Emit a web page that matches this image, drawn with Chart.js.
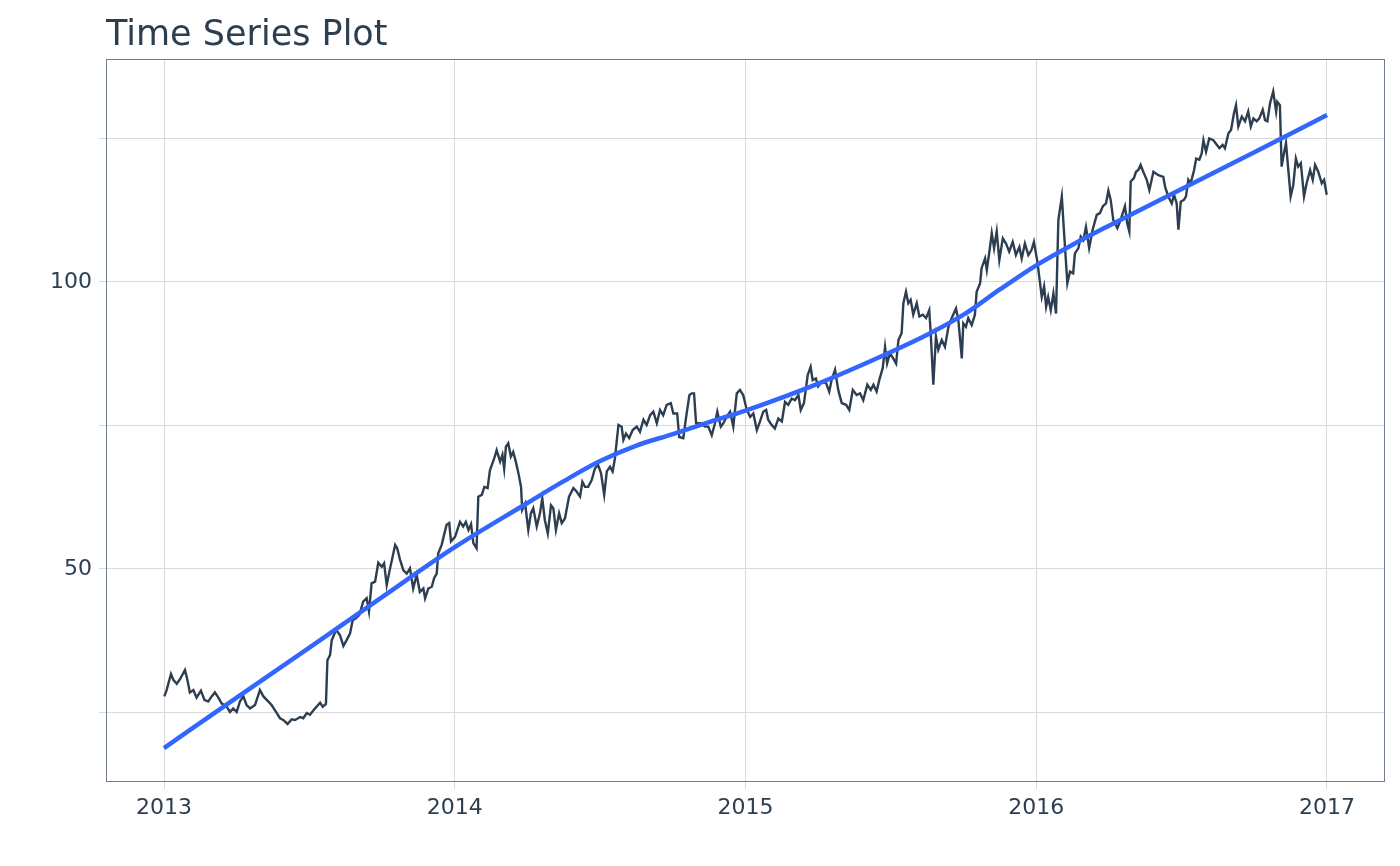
<!DOCTYPE html>
<html>
<head>
<meta charset="utf-8">
<title>Time Series Plot</title>
<script src="https://cdn.jsdelivr.net/npm/chart.js@4.4.1/dist/chart.umd.min.js"></script>
<style>
  html, body { margin: 0; padding: 0; background: #ffffff; }
  #wrap { width: 1400px; height: 866px; }
</style>
</head>
<body>
<div id="wrap"><canvas id="tsChart" width="1400" height="866"></canvas></div>
<script>
// decimal years of each observation
const dates = [
  2013.001, 2013.009, 2013.024, 2013.032, 2013.044, 2013.055, 2013.072, 2013.080, 2013.089, 2013.101,
  2013.112, 2013.127, 2013.139, 2013.152, 2013.164, 2013.175, 2013.187, 2013.198, 2013.216, 2013.227,
  2013.238, 2013.250, 2013.261, 2013.273, 2013.284, 2013.296, 2013.313, 2013.330, 2013.342, 2013.359,
  2013.370, 2013.388, 2013.399, 2013.410, 2013.425, 2013.439, 2013.451, 2013.468, 2013.479, 2013.491,
  2013.502, 2013.519, 2013.537, 2013.546, 2013.557, 2013.562, 2013.571, 2013.577, 2013.592, 2013.605,
  2013.617, 2013.628, 2013.640, 2013.649, 2013.660, 2013.672, 2013.685, 2013.697, 2013.705, 2013.714,
  2013.726, 2013.737, 2013.749, 2013.757, 2013.766, 2013.775, 2013.795, 2013.802, 2013.812, 2013.823,
  2013.835, 2013.846, 2013.857, 2013.869, 2013.880, 2013.892, 2013.898, 2013.909, 2013.921, 2013.929,
  2013.938, 2013.943, 2013.955, 2013.963, 2013.972, 2013.981, 2013.987,
  2014.001, 2014.018, 2014.029, 2014.038, 2014.047, 2014.056, 2014.064, 2014.075, 2014.081, 2014.093,
  2014.102, 2014.113, 2014.121, 2014.136, 2014.144, 2014.156, 2014.164, 2014.170, 2014.176, 2014.184,
  2014.193, 2014.201, 2014.210, 2014.219, 2014.228, 2014.232, 2014.242, 2014.253, 2014.262, 2014.270,
  2014.282, 2014.293, 2014.301, 2014.310, 2014.320, 2014.331, 2014.339, 2014.348, 2014.359, 2014.368,
  2014.379, 2014.393, 2014.408, 2014.419, 2014.431, 2014.439, 2014.448, 2014.459, 2014.471, 2014.482,
  2014.493, 2014.503, 2014.514, 2014.523, 2014.534, 2014.543, 2014.551, 2014.563, 2014.574, 2014.580,
  2014.589, 2014.600, 2014.612, 2014.626, 2014.637, 2014.649, 2014.660, 2014.672, 2014.683, 2014.695,
  2014.706, 2014.717, 2014.729, 2014.743, 2014.752, 2014.765, 2014.772, 2014.786, 2014.795, 2014.807,
  2014.815, 2014.823, 2014.830, 2014.844, 2014.861, 2014.872, 2014.884, 2014.895, 2014.903, 2014.915,
  2014.924, 2014.935, 2014.947, 2014.958, 2014.970, 2014.981, 2014.992,
  2015.004, 2015.016, 2015.027, 2015.039, 2015.050, 2015.061, 2015.071, 2015.078, 2015.090, 2015.101,
  2015.113, 2015.125, 2015.136, 2015.147, 2015.159, 2015.170, 2015.182, 2015.190, 2015.201, 2015.214,
  2015.224, 2015.231, 2015.242, 2015.250, 2015.262, 2015.277, 2015.288, 2015.296, 2015.308, 2015.319,
  2015.331, 2015.346, 2015.357, 2015.369, 2015.382, 2015.394, 2015.405, 2015.419, 2015.431, 2015.440,
  2015.451, 2015.460, 2015.472, 2015.480, 2015.487, 2015.497, 2015.508, 2015.518, 2015.526, 2015.537,
  2015.543, 2015.552, 2015.560, 2015.568, 2015.577, 2015.589, 2015.598, 2015.610, 2015.621, 2015.632,
  2015.637, 2015.646, 2015.655, 2015.663, 2015.675, 2015.686, 2015.698, 2015.709, 2015.724, 2015.732,
  2015.744, 2015.749, 2015.758, 2015.766, 2015.778, 2015.789, 2015.795, 2015.807, 2015.812, 2015.824,
  2015.830, 2015.841, 2015.847, 2015.855, 2015.864, 2015.873, 2015.885, 2015.896, 2015.907, 2015.919,
  2015.930, 2015.942, 2015.950, 2015.961, 2015.973, 2015.984, 2015.992,
  2016.004, 2016.019, 2016.027, 2016.034, 2016.041, 2016.050, 2016.059, 2016.068, 2016.076, 2016.088,
  2016.095, 2016.107, 2016.116, 2016.127, 2016.133, 2016.145, 2016.153, 2016.162, 2016.171, 2016.182,
  2016.194, 2016.208, 2016.219, 2016.229, 2016.240, 2016.248, 2016.256, 2016.265, 2016.279, 2016.290,
  2016.305, 2016.313, 2016.320, 2016.325, 2016.336, 2016.343, 2016.351, 2016.359, 2016.368, 2016.380,
  2016.389, 2016.403, 2016.420, 2016.437, 2016.443, 2016.454, 2016.466, 2016.474, 2016.483, 2016.489,
  2016.497, 2016.508, 2016.515, 2016.523, 2016.531, 2016.543, 2016.550, 2016.561, 2016.569, 2016.575,
  2016.584, 2016.595, 2016.609, 2016.621, 2016.630, 2016.641, 2016.649, 2016.661, 2016.670, 2016.680,
  2016.687, 2016.695, 2016.707, 2016.718, 2016.729, 2016.738, 2016.747, 2016.758, 2016.767, 2016.779,
  2016.787, 2016.795, 2016.804, 2016.815, 2016.825, 2016.829, 2016.838, 2016.844, 2016.850, 2016.859,
  2016.867, 2016.875, 2016.884, 2016.893, 2016.901, 2016.910, 2016.921, 2016.930, 2016.942, 2016.951,
  2016.959, 2016.970, 2016.982, 2016.990, 2016.999
];

const values = [
  27.8, 28.9, 31.7, 30.7, 30.0, 30.8, 32.4, 30.8, 28.5, 28.9,
  27.6, 28.8, 27.2, 26.9, 27.8, 28.5, 27.6, 26.6, 26.0, 25.1,
  25.7, 25.1, 26.9, 27.8, 26.3, 25.7, 26.3, 28.9, 27.8, 26.9,
  26.3, 24.9, 24.0, 23.7, 23.0, 23.8, 23.7, 24.2, 24.0, 24.9,
  24.6, 25.7, 26.7, 26.0, 26.5, 34.1, 35.0, 37.6, 39.4, 38.5,
  36.6, 37.6, 38.8, 41.1, 41.4, 42.0, 44.3, 44.9, 42.6, 47.5,
  47.8, 51.1, 50.4, 51.0, 47.2, 49.5, 54.2, 53.6, 51.6, 49.8,
  49.2, 50.1, 46.6, 49.0, 46.0, 46.6, 44.9, 46.6, 46.9, 48.4,
  49.2, 52.7, 54.2, 55.9, 57.7, 58.0, 54.8,
  55.6, 58.2, 57.4, 58.2, 56.8, 57.8, 54.5, 53.6, 62.6, 62.9,
  64.3, 64.1, 67.2, 69.3, 70.7, 68.7, 69.9, 67.5, 71.3, 71.9,
  69.6, 70.4, 68.7, 66.7, 64.3, 60.3, 61.4, 56.8, 59.7, 60.6,
  57.4, 59.7, 62.3, 58.5, 56.2, 61.1, 60.6, 56.8, 59.7, 58.0,
  58.8, 62.6, 64.1, 63.5, 62.6, 65.2, 64.3, 64.3, 65.5, 67.5,
  68.1, 66.7, 62.9, 67.0, 67.8, 67.0, 69.3, 75.1, 74.8, 72.5,
  73.6, 72.8, 74.2, 74.8, 73.9, 76.0, 75.1, 76.8, 77.4, 75.4,
  77.7, 76.8, 78.6, 78.9, 77.1, 77.1, 73.0, 72.8, 76.2, 80.3,
  80.6, 80.6, 75.4, 75.4, 74.8, 74.8, 73.3, 75.4, 77.4, 74.8,
  75.4, 76.5, 77.4, 74.8, 80.6, 81.2, 80.3,
  77.8, 76.5, 77.1, 74.2, 75.7, 77.4, 77.7, 76.0, 75.1, 74.5,
  76.2, 75.7, 79.1, 78.6, 79.7, 79.4, 80.3, 77.7, 78.9, 83.8,
  85.2, 82.9, 83.2, 81.8, 82.6, 82.4, 80.9, 82.9, 84.7, 81.2,
  78.9, 78.6, 77.7, 81.2, 80.3, 80.6, 79.4, 82.1, 81.2, 82.1,
  80.9, 82.9, 85.0, 88.7, 85.8, 87.6, 86.7, 85.8, 89.9, 91.1,
  96.3, 98.3, 96.3, 96.9, 94.3, 96.3, 94.0, 94.3, 93.7, 95.1,
  91.1, 82.1, 90.5, 88.2, 89.9, 88.7, 92.2, 93.7, 95.4, 93.4,
  86.7, 92.8, 92.2, 93.7, 92.5, 94.3, 98.3, 99.8, 102.4, 104.1,
  102.1, 106.1, 108.5, 105.9, 108.8, 103.8, 107.6, 106.7, 105.3, 107.0,
  104.7, 106.1, 104.1, 106.7, 104.7, 105.6, 107.0,
  103.5, 97.4, 99.2, 95.7, 97.4, 95.1, 98.0, 94.5, 110.8, 114.9,
  109.1, 99.8, 101.8, 101.5, 105.0, 105.9, 107.9, 107.3, 109.6, 105.9,
  109.1, 111.7, 112.0, 113.2, 113.7, 115.9, 114.3, 110.8, 109.4, 110.8,
  113.2, 110.2, 108.8, 117.5, 118.1, 119.2, 119.5, 120.4, 119.2, 117.8,
  116.0, 119.2, 118.6, 118.3, 116.6, 114.9, 113.7, 115.2, 113.7, 109.1,
  114.0, 114.3, 114.9, 117.8, 117.2, 119.5, 121.5, 121.3, 122.4, 124.7,
  122.7, 125.0, 124.7, 123.9, 123.3, 123.9, 123.3, 125.9, 126.5, 129.4,
  130.8, 127.1, 128.8, 128.0, 129.7, 127.1, 128.5, 128.0, 128.5, 130.0,
  128.2, 128.0, 131.1, 133.2, 129.7, 131.4, 130.8, 120.1, 121.9, 124.2,
  119.5, 114.9, 116.9, 121.5, 120.1, 120.7, 114.9, 117.2, 119.5, 117.8,
  120.4, 119.2, 117.2, 117.8, 115.2
];

// smoothed trend (loess-like)
const trendDates = [2013.0, 2013.25, 2013.5, 2013.75, 2014.0, 2014.25, 2014.375, 2014.5,
                    2014.625, 2014.75, 2014.875, 2015.0, 2015.25, 2015.5, 2015.625, 2015.75,
                    2015.875, 2016.0, 2016.125, 2016.25, 2016.5, 2016.75, 2017.0];
const trendValues = [18.8, 27.6, 36.3, 45.1, 53.8, 61.5, 65.3, 68.8,
                     71.5, 73.5, 75.6, 77.6, 82.3, 87.8, 90.8, 94.3,
                     98.7, 102.9, 106.5, 109.8, 116.2, 122.6, 129.1];

const yearTicks = [2013, 2014, 2015, 2016, 2017];
const valueTicks = [25, 50, 75, 100, 125];
const valueLabels = [50, 100];

const textColor = '#2c3e50';
const gridColor = '#d9d9d9';

const seriesPoints = dates.map((d, i) => ({ x: d, y: values[i] }));
const trendPoints = trendDates.map((d, i) => ({ x: d, y: trendValues[i] }));

// title at the left edge of the panel + full panel border
const panelDecor = {
    id: 'panelDecor',
    afterDraw(chart) {
        const { ctx, chartArea } = chart;
        ctx.save();
        ctx.strokeStyle = '#6f7d8c';
        ctx.lineWidth = 1;
        ctx.strokeRect(chartArea.left + 0.5, chartArea.top + 0.5,
                       chartArea.right - chartArea.left - 1, chartArea.bottom - chartArea.top - 1);
        ctx.fillStyle = textColor;
        ctx.font = '35px "DejaVu Sans"';
        ctx.textAlign = 'left';
        ctx.textBaseline = 'alphabetic';
        ctx.fillText('Time Series Plot', chartArea.left, 45);
        ctx.restore();
    }
};

const ctx = document.getElementById('tsChart').getContext('2d');
const tsChart = new Chart(ctx, {
    type: 'line',
    data: {
        datasets: [{
            label: 'Value',
            data: seriesPoints,
            borderColor: '#2c3e50',
            borderWidth: 2.4,
            pointRadius: 0,
            tension: 0,
            order: 2
        },
        {
            label: 'Trend',
            data: trendPoints,
            borderColor: '#3366ff',
            borderWidth: 4.5,
            pointRadius: 0,
            cubicInterpolationMode: 'monotone',
            order: 1
        }]
    },
    options: {
        responsive: false,
        animation: false,
        devicePixelRatio: 1,
        layout: {
            padding: { left: 0, right: 15, top: 59, bottom: 0 }
        },
        scales: {
            x: {
                type: 'linear',
                min: 2012.8005,
                max: 2017.1995,
                afterBuildTicks: (scale) => {
                    scale.ticks = yearTicks.map(v => ({ value: v }));
                },
                afterFit: (scale) => { scale.height = 84; },
                grid: {
                    color: gridColor,
                    lineWidth: 1,
                    tickLength: 7,
                    drawOnChartArea: true
                },
                border: { display: false },
                ticks: {
                    color: textColor,
                    padding: 6,
                    maxRotation: 0,
                    font: { family: 'DejaVu Sans', size: 22 },
                    callback: (v) => String(v)
                }
            },
            y: {
                min: 12.89,
                max: 138.85,
                afterBuildTicks: (scale) => {
                    scale.ticks = valueTicks.map(v => ({ value: v }));
                },
                afterFit: (scale) => { scale.width = 106; },
                grid: {
                    color: gridColor,
                    lineWidth: 1,
                    tickLength: 7
                },
                border: { display: false },
                ticks: {
                    color: textColor,
                    padding: 7,
                    font: { family: 'DejaVu Sans', size: 22 },
                    callback: (v) => valueLabels.includes(v) ? String(v) : ''
                }
            }
        },
        plugins: {
            legend: { display: false },
            title: { display: false },
            tooltip: { enabled: false }
        }
    },
    plugins: [panelDecor]
});
</script>
</body>
</html>
